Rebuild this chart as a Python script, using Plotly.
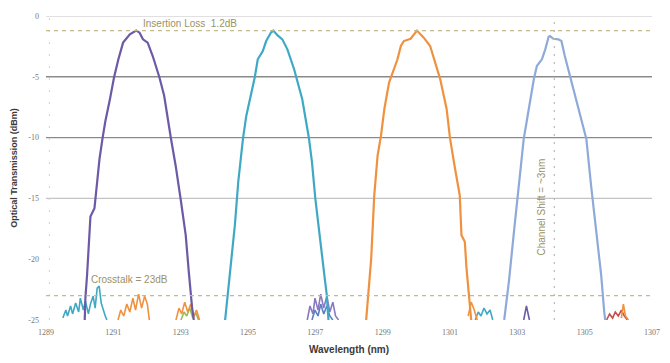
import plotly.graph_objects as go

# Filter channel responses: wavelength (nm) and transmission (dBm)
ch1_wl = [1290.15, 1290.17, 1290.22, 1290.27, 1290.32, 1290.44, 1290.51, 1290.59, 1290.68, 1290.76,
          1290.90, 1291.02, 1291.15, 1291.29, 1291.49, 1291.68, 1291.78, 1291.88, 1292.02, 1292.17,
          1292.37, 1292.51, 1292.71, 1292.85, 1293.00, 1293.15, 1293.24, 1293.29, 1293.34, 1293.39]
ch1_db = [-25.0, -23.2, -21.3, -18.5, -16.5, -15.8, -13.65, -11.74, -10.05, -8.7,
          -6.83, -5.06, -3.56, -2.19, -1.51, -1.2, -1.37, -1.92, -2.19, -3.29,
          -5.06, -6.56, -10.05, -12.29, -15.07, -18.02, -21.0, -22.93, -24.0, -25.0]

ch2_wl = [1294.32, 1294.46, 1294.61, 1294.71, 1294.85, 1294.95, 1295.10, 1295.20, 1295.29, 1295.44,
          1295.54, 1295.68, 1295.75, 1295.88, 1296.02, 1296.17, 1296.37, 1296.51, 1296.61, 1296.81,
          1296.90, 1297.00, 1297.14, 1297.29, 1297.34, 1297.39]
ch2_db = [-25.0, -21.29, -17.2, -13.65, -10.1, -8.2, -6.28, -5.06, -3.56, -2.88,
          -2.06, -1.37, -1.2, -1.6, -1.92, -2.74, -4.38, -5.74, -6.83, -10.05,
          -12.01, -15.02, -18.56, -21.83, -22.93, -25.0]

ch3_wl = [1298.51, 1298.66, 1298.75, 1298.85, 1298.95, 1299.05, 1299.19, 1299.29, 1299.44, 1299.54,
          1299.63, 1299.83, 1300.02, 1300.22, 1300.41, 1300.56, 1300.71, 1300.90, 1301.00, 1301.15,
          1301.29, 1301.34, 1301.44, 1301.49, 1301.58, 1301.63]
ch3_db = [-25.0, -19.92, -14.75, -11.47, -9.84, -7.65, -5.47, -4.65, -3.56, -2.47,
          -2.06, -1.87, -1.2, -1.78, -2.47, -3.83, -5.2, -7.65, -10.05, -12.56,
          -14.75, -18.02, -18.56, -20.74, -23.47, -25.0]

ch4_wl = [1302.61, 1302.75, 1302.90, 1303.05, 1303.19, 1303.29, 1303.39, 1303.49, 1303.58, 1303.73,
          1303.83, 1303.88, 1303.93, 1303.97, 1304.07, 1304.22, 1304.31, 1304.41, 1304.56, 1304.75,
          1304.95, 1305.05, 1305.19, 1305.34, 1305.49, 1305.58, 1305.61]
ch4_db = [-25.0, -21.83, -17.74, -13.65, -10.11, -8.47, -6.83, -5.2, -4.11, -3.56,
          -2.74, -2.19, -1.7, -1.65, -1.87, -1.92, -2.06, -3.29, -4.93, -6.83,
          -9.02, -10.11, -13.93, -17.74, -21.29, -24.29, -25.0]

# Crosstalk residues near the noise floor
xt_teal_a_wl = [1289.50, 1289.59, 1289.64, 1289.73, 1289.79, 1289.88, 1289.97, 1290.02, 1290.11, 1290.17,
                1290.26, 1290.32, 1290.40, 1290.46, 1290.52, 1290.58, 1290.64, 1290.70, 1290.76, 1290.81]
xt_teal_a_db = [-24.84, -24.18, -24.67, -23.85, -24.5, -23.6, -24.34, -23.2, -24.18, -23.45,
                -24.5, -23.69, -23.04, -24.02, -22.38, -22.22, -23.61, -24.18, -24.67, -25.0]

xt_orange_a_wl = [1291.14, 1291.22, 1291.31, 1291.40, 1291.49, 1291.58, 1291.66, 1291.75, 1291.84, 1291.93, 1292.01, 1292.07]
xt_orange_a_db = [-25.0, -24.18, -24.67, -23.69, -24.34, -23.2, -24.18, -22.87, -24.02, -23.04, -23.69, -25.0]

xt_orange_b_wl = [1292.86, 1292.95, 1293.03, 1293.12, 1293.21, 1293.30, 1293.39, 1293.47, 1293.56]
xt_orange_b_db = [-25.0, -24.02, -24.5, -23.53, -24.34, -23.69, -24.67, -24.18, -25.0]

xt_green_b_wl = [1293.01, 1293.10, 1293.18, 1293.27, 1293.36, 1293.45, 1293.53]
xt_green_b_db = [-25.0, -24.34, -24.67, -24.02, -24.84, -24.43, -25.0]

xt_purple_c_wl = [1296.76, 1296.84, 1296.93, 1296.99, 1297.08, 1297.16, 1297.25, 1297.34, 1297.43, 1297.52, 1297.60, 1297.69]
xt_purple_c_db = [-25.0, -23.85, -24.5, -23.2, -24.18, -22.87, -24.02, -23.04, -24.34, -23.53, -24.67, -25.0]

xt_blue_c_wl = [1296.90, 1296.99, 1297.08, 1297.16, 1297.25, 1297.34, 1297.43, 1297.52]
xt_blue_c_db = [-25.0, -24.18, -24.67, -23.69, -24.5, -23.85, -24.67, -25.0]

xt_orange_d_wl = [1301.54, 1301.63, 1301.72, 1301.81]
xt_orange_d_db = [-24.67, -23.53, -24.18, -25.0]

xt_teal_d_wl = [1301.75, 1301.84, 1301.92, 1302.01, 1302.10, 1302.19, 1302.27]
xt_teal_d_db = [-25.0, -24.34, -24.67, -24.02, -24.5, -24.18, -25.0]

xt_purple_e_wl = [1303.19, 1303.27, 1303.36]
xt_purple_e_db = [-25.0, -23.85, -25.0]

xt_red_f_wl = [1305.65, 1305.74, 1305.83, 1305.91, 1306.00, 1306.09, 1306.18, 1306.27]
xt_red_f_db = [-25.0, -24.5, -24.84, -24.34, -24.67, -24.18, -24.67, -25.0]

xt_orange_f_wl = [1306.09, 1306.15, 1306.21, 1306.30]
xt_orange_f_db = [-24.84, -23.69, -24.67, -25.0]

# Reference levels and annotations
insertion_loss_db = -1.2
crosstalk_db = -23.0
channel_mark_wl = 1304.1
grid_levels = [0, -5, -10, -15]
grid_colors = ["#d6d6d6", "#8a8a8a", "#8a8a8a", "#c4c4c4"]

x_ticks = [1289, 1291, 1293, 1295, 1297, 1299, 1301, 1303, 1305, 1307]
y_ticks = [0, -5, -10, -15, -20, -25]

fig = go.Figure()

# grid lines drawn individually so each can carry its own tone
for lvl, col in zip(grid_levels, grid_colors):
    fig.add_shape(type="line", xref="paper", yref="y", x0=0, x1=1, y0=lvl, y1=lvl,
                  line=dict(color=col, width=1.4), layer="below")

# faint dotted guide along the value axis
fig.add_shape(type="line", xref="x", yref="paper", x0=1289.1, x1=1289.1, y0=0, y1=1,
              line=dict(color="#d0d0d0", width=1, dash="2px,10px"), layer="below")

noise = [
    (xt_teal_a_wl, xt_teal_a_db, "#3fa9c5"),
    (xt_orange_a_wl, xt_orange_a_db, "#f0913f"),
    (xt_green_b_wl, xt_green_b_db, "#9bbb59"),
    (xt_orange_b_wl, xt_orange_b_db, "#f0913f"),
    (xt_blue_c_wl, xt_blue_c_db, "#5b7fc0"),
    (xt_purple_c_wl, xt_purple_c_db, "#8a78c0"),
    (xt_teal_d_wl, xt_teal_d_db, "#3fa9c5"),
    (xt_orange_d_wl, xt_orange_d_db, "#f0913f"),
    (xt_purple_e_wl, xt_purple_e_db, "#6d5aa6"),
    (xt_red_f_wl, xt_red_f_db, "#c0504d"),
    (xt_orange_f_wl, xt_orange_f_db, "#f0913f"),
]
for wl, db, col in noise:
    fig.add_trace(go.Scatter(x=wl, y=db, mode="lines", line=dict(color=col, width=1.6),
                             showlegend=False, hoverinfo="skip"))

channels = [
    (ch1_wl, ch1_db, "#6d5aa6"),
    (ch2_wl, ch2_db, "#3fa9c5"),
    (ch3_wl, ch3_db, "#f0913f"),
    (ch4_wl, ch4_db, "#8eaad8"),
]
for wl, db, col in channels:
    fig.add_trace(go.Scatter(x=wl, y=db, mode="lines", line=dict(color=col, width=2.2),
                             showlegend=False))

# insertion-loss and crosstalk reference levels
for lvl in (insertion_loss_db, crosstalk_db):
    fig.add_shape(type="line", xref="paper", yref="y", x0=0, x1=1, y0=lvl, y1=lvl,
                  line=dict(color="#c2bb8c", width=1.3, dash="4px,4px"))

# channel position marker
fig.add_shape(type="line", xref="x", yref="paper", x0=channel_mark_wl, x1=channel_mark_wl, y0=0, y1=1,
              line=dict(color="#b8b8b8", width=1.2, dash="2px,6px"))

label_font = dict(family="Liberation Sans", size=10, color="#9a9266")
fig.add_annotation(x=1291.81, y=-0.6, text="Insertion Loss  1.2dB", showarrow=False,
                   xanchor="left", yanchor="middle", font=label_font)
fig.add_annotation(x=1290.29, y=-21.7, text="Crosstalk = 23dB", showarrow=False,
                   xanchor="left", yanchor="middle", font=label_font)
fig.add_annotation(x=1303.72, y=-15.7, text="Channel Shift = ~3nm", showarrow=False,
                   textangle=-90, xanchor="center", yanchor="middle", font=label_font)

tick_font = dict(size=8, color="#777777", family="Liberation Serif")
fig.update_layout(
    width=670, height=363,
    margin=dict(l=46, r=10, t=16, b=41),
    paper_bgcolor="white", plot_bgcolor="white",
    font=dict(family="Liberation Sans", size=8, color="#777777"),
    xaxis=dict(range=[1289, 1307], tickvals=x_ticks, ticktext=[str(v) for v in x_ticks],
               showgrid=False, zeroline=False, showline=False, ticks="",
               ticklabelstandoff=6, tickfont=tick_font,
               title=dict(text="Wavelength (nm)", standoff=9,
                          font=dict(size=10, color="#3a3a3a", family="Liberation Sans", weight="bold"))),
    yaxis=dict(range=[-25, 0], tickvals=y_ticks, ticktext=[str(v) for v in y_ticks],
               showgrid=False, zeroline=False, showline=False, ticks="",
               ticklabelstandoff=6, tickfont=tick_font,
               title=dict(text="Optical Transmission (dBm)", standoff=9,
                          font=dict(size=9, color="#3a3a3a", family="Liberation Sans", weight="bold"))),
)

fig.write_html("out.html")
